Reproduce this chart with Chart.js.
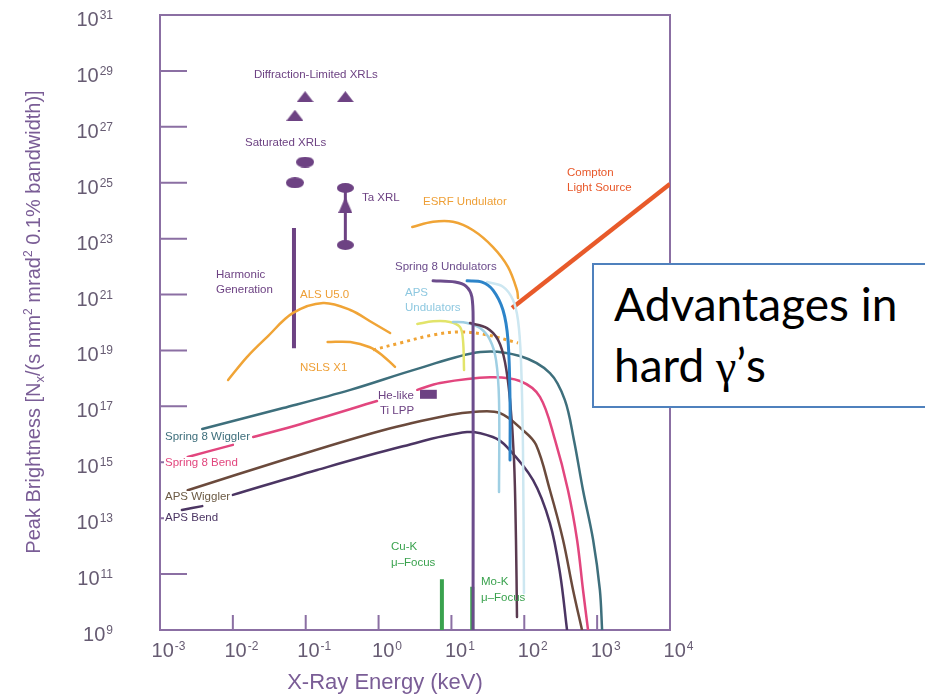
<!DOCTYPE html>
<html>
<head>
<meta charset="utf-8">
<script src="https://cdn.jsdelivr.net/npm/chart.js@4.4.1/dist/chart.umd.min.js"></script>
<style>
  body { margin: 0; background: #fff; }
  #wrap { position: relative; width: 925px; height: 694px; overflow: hidden; }
  #box { position: absolute; left: 592px; top: 263px; width: 345px; height: 145px;
         border: 2px solid #4f81bd; background: #fff; box-sizing: border-box;
         font-family: Lato, "Open Sans", sans-serif; font-size: 46px; color: #000; }
  #box div { position: absolute; left: 20px; line-height: 46px; white-space: nowrap; }
  #box .g { font-family: "Liberation Serif", "DejaVu Serif", serif; }
</style>
</head>
<body>
<div id="wrap">
  <canvas id="chart" width="925" height="694"></canvas>
  <div id="box">
    <div style="top:16px">Advantages in</div>
    <div style="top:77px">hard <span class="g">γ</span>’s</div>
  </div>
</div>
<script>
// energy in keV, peak brightness in Nx/(s mm2 mrad2 0.1% bw)
const xTickExps = [-3, -2, -1, 0, 1, 2, 3, 4];
const yTickExps = [9, 11, 13, 15, 17, 19, 21, 23, 25, 27, 29, 31];

const spring8WigglerE = [0.0038, 0.049, 0.41, 3.4, 25, 87, 225, 360, 480, 640, 880, 1090, 1170];
const spring8WigglerB = [1.55e16, 8.7e16, 3.9e17, 2.2e18, 8.8e18, 6.3e18, 1.55e18, 1.7e17, 6.3e15, 1.0e14, 1.7e12, 2.7e10, 1e9];

const spring8BendE = [0.0024, 0.010, 0.014, 0.019, 0.084, 0.95, 2.0, 3.4, 7.0, 34, 87, 164, 264, 398, 530, 640, 750];
const spring8BendB = [1.55e15, 4.2e15, null, 8e15, 2.3e16, 1.55e17, null, 3.9e17, 6.9e17, 1.1e18, 8.1e17, 2.2e17, 6.3e15, 1e14, 1.7e12, 2.7e10, 1e9];

const apsWigglerE = [0.0024, 0.049, 1.15, 9.5, 20, 46, 96, 145, 225, 340, 467, 620];
const apsWigglerB = [1.0e14, 1.2e15, 1.4e16, 4.9e16, 6.3e16, 5.8e16, 1.4e16, 4.2e15, 1.0e14, 1.7e12, 2.7e10, 1e9];

const apsBendE = [0.0020, 0.0038, 0.006, 0.010, 0.143, 1.97, 16.4, 37, 58, 132, 225, 309, 386];
const apsBendB = [1.95e13, 2.7e13, null, 6.8e13, 5.3e14, 3.5e15, 1.2e16, 8e15, 3.5e15, 2.3e14, 6.7e12, 1.1e11, 1e9];

const spring8UndE = [5.6, 11.2, 15.8, 19.1, 19.8, 19.8];
const spring8UndB = [3.1e21, 2.8e21, 2e21, 8.1e20, 5.4e19, 1e9];

const apsUndE = [10.5, 16.4, 24.7, 33.8, 40.9, 45, 45];
const apsUndB = [1.05e20, 9.6e19, 6.3e19, 2.4e19, 4.6e18, 1.7e17, 8.7e13];

const paleUndE = [30.8, 51, 70, 82, 90, 96, 99];
const paleUndB = [2.8e21, 1.9e21, 6.4e20, 1.2e20, 4.6e18, 2.8e15, 2.1e10];

const blueUndE = [16.4, 26.3, 37.2, 51, 59.7, 63.7, 63.7];
const blueUndB = [3.1e21, 2.8e21, 1.45e21, 2.8e20, 2.4e19, 1.7e17, 1.2e15];

const darkUndE = [18, 30.8, 43.6, 54.3, 63.7, 72.3, 76.9, 79.4];
const darkUndB = [9.6e19, 6.3e19, 2.4e19, 3.9e18, 1.7e17, 1.2e15, 1.7e12, 2.9e9];

const yellowUndE = [3.4, 5.6, 9.5, 13.1, 14.4, 14.9];
const yellowUndB = [8.9e19, 1.1e20, 1.05e20, 6.9e19, 2.4e19, 2e18];

const esrfE = [2.9, 5.6, 10.5, 19.8, 37.2, 59.7, 79.4, 82];
const esrfB = [2.6e23, 4e23, 4e23, 2e23, 5e22, 9.8e21, 1.45e21, 7.5e20];

const comptonE = [68, 1e4];
const comptonB = [3.3e20, 9e24];

const alsE = [0.0086, 0.0156, 0.0294, 0.067, 0.173, 0.41, 0.84, 1.44];
const alsB = [8.8e17, 5.8e18, 3e19, 2.2e20, 5e20, 2.8e20, 9.6e19, 4.2e19];

const nslsE = [0.20, 0.41, 0.76, 1.11, 1.68];
const nslsB = [2e19, 2e19, 1.3e19, 6.9e18, 2.6e18];

const dottedE = [0.84, 1.97, 5.6, 13.1, 30.8, 82];
const dottedB = [1.05e19, 1.85e19, 3.6e19, 4.6e19, 3.6e19, 1.85e19];

const harmonicE = [0.069, 0.069];
const harmonicB = [2.4e23, 1.2e19];

const taXrlE = [0.35, 0.35];
const taXrlB = [6.5e24, 5.9e22];
const taArrowE = [0.35];
const taArrowB = [1.6e24];

const saturatedE = [0.098, 0.071];
const saturatedB = [5.5e25, 1e25];

const diffractionE = [0.098, 0.071, 0.35];
const diffractionB = [1.2e28, 2.6e27, 1.2e28];

const heLikeE = [3.7, 6.3];
const heLikeB = [2.7e17, 2.7e17];

const cuKE = [7.4, 7.4];
const cuKB = [6.6e10, 1e9];
const moKE = [19.3, 19.3];
const moKB = [3.5e10, 1e9];

const PURPLE = '#6d4283';
const AXIS = '#8b6fa3';
const TICKTXT = '#665b72';
const FONT = '"Liberation Sans", Arial, sans-serif';

function series(E, B) { return E.map((e, i) => ({ x: e, y: B[i] })); }

function curve(label, E, B, color, width, extra) {
  return Object.assign({
    label, data: series(E, B), borderColor: color, backgroundColor: color,
    borderWidth: width, showLine: true, pointRadius: 0, tension: 0.35,
    spanGaps: false, fill: false, borderCapStyle: 'round'
  }, extra || {});
}

function shape(w, h, color, kind) {
  const c = document.createElement('canvas');
  c.width = w; c.height = h;
  const g = c.getContext('2d');
  g.fillStyle = color;
  g.beginPath();
  if (kind === 'ellipse') g.ellipse(w / 2, h / 2, w / 2, h / 2, 0, 0, Math.PI * 2);
  else { g.moveTo(w / 2, 0); g.lineTo(w, h); g.lineTo(0, h); g.closePath(); }
  g.fill();
  return c;
}

function marks(label, E, B, img) {
  return { label, data: series(E, B), showLine: false, pointStyle: img,
           pointRadius: 8, borderWidth: 0, backgroundColor: PURPLE };
}

// text, left, middle, colour, white backing (hides the tick stub behind it)
const notes = [
  ['Diffraction-Limited XRLs', 254, 75, PURPLE],
  ['Saturated XRLs', 245, 143, PURPLE],
  ['Ta XRL', 362, 198, PURPLE],
  ['ESRF Undulator', 423, 202, '#ee9f36'],
  ['Compton', 567, 173, '#e8582a'],
  ['Light Source', 567, 188, '#e8582a'],
  ['Harmonic', 216, 275, PURPLE],
  ['Generation', 216, 290, PURPLE],
  ['ALS U5.0', 300, 295, '#ee9f36'],
  ['Spring 8 Undulators', 395, 267, '#6c4c8c'],
  ['APS', 405, 293, '#8ec8e0'],
  ['Undulators', 405, 308, '#8ec8e0'],
  ['NSLS X1', 300, 368, '#ee9f36'],
  ['He-like', 378, 396, PURPLE],
  ['Ti LPP', 380, 411, PURPLE],
  ['Spring 8 Wiggler', 165, 437, '#3e6f7c', true],
  ['Spring 8 Bend', 165, 463, '#e2467e', true],
  ['APS Wiggler', 165, 497, '#6b5a44', true],
  ['APS Bend', 165, 518, '#4b3563', true],
  ['Cu-K', 391, 547, '#3aa24e'],
  ['\u03bc\u2013Focus', 391, 563, '#3aa24e'],
  ['Mo-K', 481, 582, '#3aa24e'],
  ['\u03bc\u2013Focus', 481, 598, '#3aa24e']
];

function drawPow(ctx, exp, x, baseline, align) {
  const base = '10', sup = String(exp);
  ctx.font = '20px ' + FONT;
  const wb = ctx.measureText(base).width;
  ctx.font = '12px ' + FONT;
  const ws = ctx.measureText(sup).width;
  const start = align === 'right' ? x - wb - ws : x - (wb + ws) / 2;
  ctx.textAlign = 'left';
  ctx.textBaseline = 'alphabetic';
  ctx.font = '20px ' + FONT;
  ctx.fillText(base, start, baseline);
  ctx.font = '12px ' + FONT;
  ctx.fillText(sup, start + wb + 1, baseline - 7);
}

const decor = {
  id: 'decor',
  beforeDatasetsDraw(chart) {
    const { ctx, chartArea: a, scales: { x, y } } = chart;
    ctx.save();
    ctx.strokeStyle = AXIS;
    ctx.lineWidth = 2;
    ctx.strokeRect(a.left, a.top, a.right - a.left, a.bottom - a.top);
    ctx.beginPath();
    yTickExps.slice(1, -1).forEach(e => {
      const py = y.getPixelForValue(Math.pow(10, e));
      ctx.moveTo(a.left, py); ctx.lineTo(a.left + 27, py);
    });
    xTickExps.slice(1, -1).forEach(e => {
      const px = x.getPixelForValue(Math.pow(10, e));
      ctx.moveTo(px, a.bottom); ctx.lineTo(px, a.bottom - 15);
    });
    ctx.stroke();

    ctx.fillStyle = TICKTXT;
    yTickExps.forEach(e => drawPow(ctx, e, 112, y.getPixelForValue(Math.pow(10, e)) + 11, 'right'));
    xTickExps.forEach(e => drawPow(ctx, e, x.getPixelForValue(Math.pow(10, e)) + 8, 657, 'center'));

    // axis titles
    ctx.fillStyle = '#7a5d96';
    ctx.font = '22px ' + FONT;
    ctx.textAlign = 'center';
    ctx.fillText('X-Ray Energy (keV)', 385, 689);

    const parts = [['Peak Brightness [N', 20, 0], ['x', 13, 4], ['/(s mm', 20, 0], ['2', 12, -8],
                   [' mrad', 20, 0], ['2', 12, -8], [' 0.1% bandwidth)]', 20, 0]];
    let total = 0;
    parts.forEach(p => { ctx.font = p[1] + 'px ' + FONT; total += ctx.measureText(p[0]).width; });
    ctx.translate(40, 322);
    ctx.rotate(-Math.PI / 2);
    ctx.textAlign = 'left';
    let cx = -total / 2;
    parts.forEach(p => {
      ctx.font = p[1] + 'px ' + FONT;
      ctx.fillText(p[0], cx, p[2]);
      cx += ctx.measureText(p[0]).width;
    });
    ctx.restore();
  },
  afterDatasetsDraw(chart) {
    const { ctx } = chart;
    ctx.save();
    ctx.font = '11.5px ' + FONT;
    ctx.textAlign = 'left';
    ctx.textBaseline = 'middle';
    notes.forEach(n => {
      if (n[4]) {
        ctx.fillStyle = '#fff';
        ctx.fillRect(n[1] - 1, n[2] - 6, ctx.measureText(n[0]).width + 2, 12);
      }
      ctx.fillStyle = n[3];
      ctx.fillText(n[0], n[1], n[2]);
    });
    ctx.restore();
  }
};

const ellipseBig = shape(18, 11, PURPLE, 'ellipse');
const ellipseTa = shape(17, 10, PURPLE, 'ellipse');
const triSmall = shape(17, 11, PURPLE, 'tri');
const triArrow = shape(14, 16, PURPLE, 'tri');

new Chart(document.getElementById('chart'), {
  type: 'scatter',
  data: {
    datasets: [
      curve('Spring 8 Undulators', spring8UndE, spring8UndB, '#6c4c8c', 3),
      curve('Mo-K', moKE, moKB, '#3aa24e', 4, { tension: 0, borderCapStyle: 'butt' }),
      curve('Cu-K', cuKE, cuKB, '#3aa24e', 4, { tension: 0, borderCapStyle: 'butt' }),
      curve('Blue undulator', blueUndE, blueUndB, '#2d84c9', 3),
      curve('Dark undulator', darkUndE, darkUndB, '#5a3a50', 2.5),
      curve('APS Undulators', apsUndE, apsUndB, '#9fcfe3', 2.5),
      curve('Pale undulator', paleUndE, paleUndB, '#cde7f1', 2.5),
      curve('Yellow undulator', yellowUndE, yellowUndB, '#e2e46a', 2.5),
      curve('Spring 8 Wiggler', spring8WigglerE, spring8WigglerB, '#3e6f7c', 2.5),
      curve('Spring 8 Bend', spring8BendE, spring8BendB, '#e2467e', 2.5),
      curve('APS Wiggler', apsWigglerE, apsWigglerB, '#6b4a3c', 2.5),
      curve('APS Bend', apsBendE, apsBendB, '#4b3563', 2.5),
      curve('ESRF Undulator', esrfE, esrfB, '#f0a436', 2.5),
      curve('Compton Light Source', comptonE, comptonB, '#e85a2a', 4.5, { tension: 0, borderCapStyle: 'butt' }),
      curve('ALS U5.0', alsE, alsB, '#f0a436', 2.5),
      curve('NSLS X1', nslsE, nslsB, '#f0a436', 2.5),
      curve('NSLS extension', dottedE, dottedB, '#f0a436', 3, { borderDash: [3, 4], borderCapStyle: 'butt' }),
      curve('Harmonic Generation', harmonicE, harmonicB, PURPLE, 4, { tension: 0, borderCapStyle: 'butt' }),
      curve('Ta XRL', taXrlE, taXrlB, PURPLE, 3, { tension: 0, borderCapStyle: 'butt' }),
      curve('He-like Ti LPP', heLikeE, heLikeB, PURPLE, 9, { tension: 0, borderCapStyle: 'butt' }),
      marks('Ta XRL arrow', taArrowE, taArrowB, triArrow),
      marks('Ta XRL ends', taXrlE, taXrlB, ellipseTa),
      marks('Saturated XRLs', saturatedE, saturatedB, ellipseBig),
      marks('Diffraction-Limited XRLs', diffractionE, diffractionB, triSmall)
    ]
  },
  options: {
    responsive: false,
    animation: false,
    devicePixelRatio: 1,
    layout: { padding: { left: 160, right: 255, top: 15, bottom: 64 } },
    plugins: { legend: { display: false }, tooltip: { enabled: false } },
    scales: {
      x: { type: 'logarithmic', min: 1e-3, max: 1e4, display: false },
      y: { type: 'logarithmic', min: 1e9, max: 1e31, display: false }
    }
  },
  plugins: [decor]
});
</script>
</body>
</html>
